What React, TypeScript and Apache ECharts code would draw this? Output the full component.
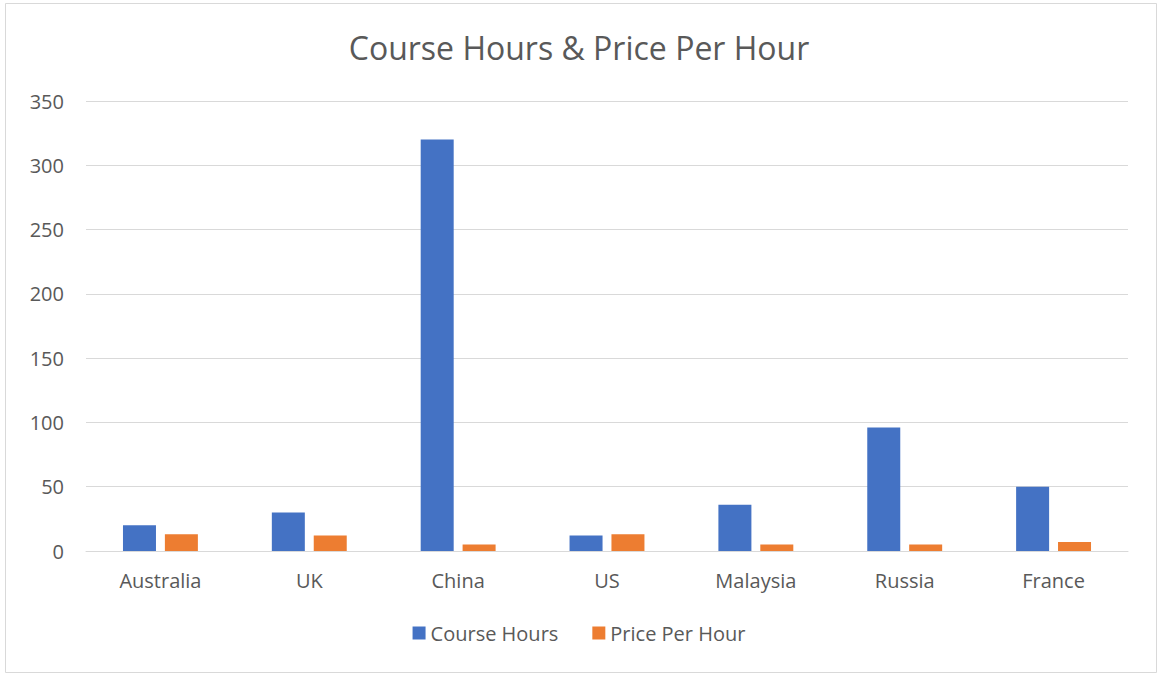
import React, { useEffect, useRef } from "react";
import * as echarts from "echarts";

const categories = ["Australia", "UK", "China", "US", "Malaysia", "Russia", "France"];
const courseHours = [20, 30, 320, 12, 36, 96, 50];
const pricePerHour = [13, 12, 5, 13, 5, 5, 7];
const yTicks = [0, 50, 100, 150, 200, 250, 300, 350];

const FONT = "'Open Sans', 'Noto Sans', sans-serif";

export default function App() {
  const ref = useRef<HTMLDivElement>(null);
  useEffect(() => {
    if (!ref.current) return;
    const chart = echarts.init(ref.current, undefined, { renderer: "svg" });
    chart.setOption({
      animation: false,
      backgroundColor: "#ffffff",
      textStyle: { fontFamily: FONT },
      title: {
        text: "Course Hours & Price Per Hour",
        left: "center",
        top: 26,
        textStyle: { fontFamily: FONT, fontSize: 32, fontWeight: "normal", color: "#595959" },
      },
      graphic: [
        {
          type: "rect",
          shape: { x: 5.5, y: 3.5, width: 1151, height: 669 },
          style: { fill: "none", stroke: "#d9d9d9", lineWidth: 1 },
          silent: true,
        },
      ],
      legend: {
        bottom: 27,
        left: "center",
        itemWidth: 13,
        itemHeight: 13,
        itemGap: 34,
        icon: "rect",
        textStyle: { fontFamily: FONT, fontSize: 20, color: "#595959" },
        data: ["Course Hours", "Price Per Hour"],
      },
      grid: { left: 86, right: 30, top: 101, bottom: 124, containLabel: false },
      xAxis: {
        type: "category",
        data: categories,
        axisLine: { lineStyle: { color: "#d9d9d9", width: 1 } },
        axisTick: { show: false },
        axisLabel: { fontFamily: FONT, fontSize: 20, color: "#595959", margin: 19 },
      },
      yAxis: {
        type: "value",
        min: yTicks[0],
        max: yTicks[yTicks.length - 1],
        interval: 50,
        axisLine: { show: false },
        axisTick: { show: false },
        splitLine: { lineStyle: { color: "#d9d9d9", width: 1 } },
        axisLabel: { fontFamily: FONT, fontSize: 20, color: "#595959", margin: 22 },
      },
      series: [
        {
          name: "Course Hours",
          type: "bar",
          data: courseHours,
          barWidth: 33,
          barGap: "27%",
          itemStyle: { color: "#4472C4" },
        },
        {
          name: "Price Per Hour",
          type: "bar",
          data: pricePerHour,
          barWidth: 33,
          itemStyle: { color: "#ED7D31" },
        },
      ],
    });
    return () => chart.dispose();
  }, []);
  return (
    <div
      ref={ref}
      style={{ position: "absolute", left: 0, top: 0, width: 1158, height: 675 }}
    />
  );
}
